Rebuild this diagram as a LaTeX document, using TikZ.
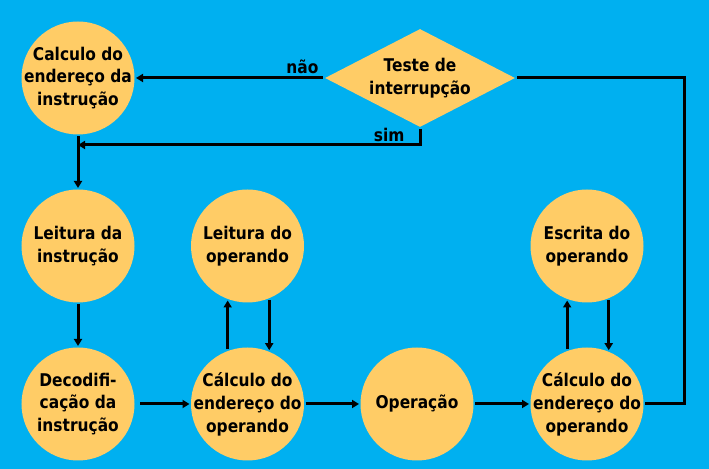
\documentclass[tikz,border=0pt]{standalone}
\usepackage{fontspec}
\setmainfont{DejaVu Sans}[FakeStretch=0.88]
\usetikzlibrary{arrows.meta,shapes.geometric}
\definecolor{bgblue}{RGB}{0,176,240}
\definecolor{stageorange}{RGB}{255,204,102}

\begin{document}
\begin{tikzpicture}[x=1bp,y=1bp,->,>={Triangle[length=7bp,width=8bp]},line width=3bp]
   \fill[bgblue] (0,0) rectangle (709,469);
   \tikzstyle{stage}=[circle, fill=stageorange, minimum size=113bp, inner sep=0pt]
   \tikzstyle{caption}=[align=center, font=\fontsize{17.6}{23}\selectfont\bfseries]
   \foreach \name/\x/\y/\txt in {addr/78/391/{Calculo do\\endereço da\\instrução},
         fetch/78/223/{Leitura da\\instrução}, decode/78/65/{Decodifi-\\cação da\\instrução},
         opread/247.5/223/{Leitura do\\operando}, opaddr/247.5/65/{Cálculo do\\endereço do\\operando},
         exec/417/65/{Operação}, reswrite/587/223/{Escrita do\\operando},
         resaddr/587/65/{Cálculo do\\endereço do\\operando}} {
       \node[stage, label={[caption]center:\txt}] (\name) at (\x,\y) {};
   }
   \node[diamond, fill=stageorange, minimum width=191bp, minimum height=99bp, inner sep=0pt,
         label={[caption]center:{Teste de\\interrupção}}] (test) at (420,391) {};
   \path (test) edge node[pos=0, anchor=south east, caption, inner sep=3bp] {não} (addr);
   \coordinate (simjoin) at (78,324);
   \draw (test.south) |- node[pos=0.5, anchor=south east, caption, inner sep=2bp, xshift=-12bp] {sim} (simjoin);
   \path (addr) edge (fetch);
   \path (fetch) edge (decode);
   \path (decode) edge[shorten <=4bp] (opaddr);
   \path (opaddr) edge (exec);
   \path (exec) edge (resaddr);
   \path (opaddr.110) edge (opread.250);
   \path (opread.292) edge (opaddr.68);
   \path (resaddr.110) edge (reswrite.250);
   \path (reswrite.292) edge (resaddr.68);
   \coordinate (loop) at (684,391);
   \draw[-] (resaddr.east) -| (loop) -- (test.east);
\end{tikzpicture}
\end{document}
